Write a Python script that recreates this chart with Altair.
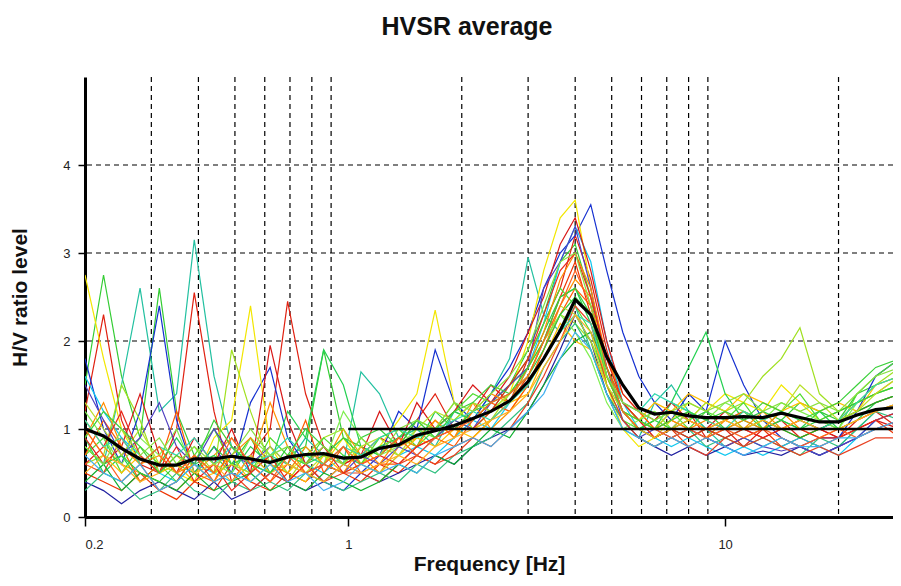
import altair as alt
import pandas as pd

freqs = [0.20, 0.224, 0.25, 0.28, 0.315, 0.35, 0.39, 0.44, 0.49, 0.55, 0.62, 0.69, 0.77, 0.86, 0.97,
         1.08, 1.21, 1.36, 1.52, 1.70, 1.91, 2.14, 2.39, 2.68, 3.0, 3.3, 3.65, 4.0, 4.4, 4.85,
         5.35, 5.9, 6.5, 7.2, 8.0, 8.9, 10.0, 11.2, 12.6, 14.1, 15.8, 17.8, 20.0, 22.4, 25.1, 29.1]

average = [1.0, 0.92, 0.78, 0.66, 0.59, 0.59, 0.66, 0.66, 0.69, 0.66, 0.62, 0.68, 0.71, 0.72, 0.67,
           0.68, 0.78, 0.82, 0.93, 0.98, 1.04, 1.12, 1.2, 1.32, 1.54, 1.8, 2.12, 2.47, 2.3, 1.82,
           1.5, 1.24, 1.17, 1.19, 1.15, 1.13, 1.13, 1.14, 1.13, 1.18, 1.13, 1.08, 1.08, 1.16, 1.22, 1.25]

win_a = [1.5, 2.75, 1.6, 0.9, 2.6, 1.2, 0.7, 0.5, 0.6, 0.9, 0.5, 0.7, 0.8, 1.9, 0.9, 0.8, 0.7, 0.9, 1.0, 0.9, 1.1, 1.3, 1.2, 1.5, 1.9, 2.3, 2.9, 3.1, 2.5, 1.6, 1.2, 1.0, 1.1, 1.3, 1.2, 1.0, 1.1, 1.2, 1.0, 1.1, 1.3, 1.2, 1.1, 1.4, 1.5, 1.6]
win_b = [1.2, 2.3, 1.1, 0.6, 0.5, 1.0, 2.55, 1.2, 0.4, 0.7, 1.0, 2.45, 1.4, 0.8, 0.6, 0.7, 0.9, 0.8, 1.1, 1.4, 1.0, 1.2, 1.5, 1.3, 1.8, 2.2, 2.6, 3.2, 2.7, 1.9, 1.3, 1.1, 0.9, 1.0, 1.2, 0.9, 1.0, 0.8, 1.0, 1.1, 0.9, 1.0, 0.9, 1.1, 1.2, 1.0]
win_c = [0.8, 0.6, 1.5, 2.6, 1.2, 1.4, 3.15, 1.6, 0.8, 0.5, 0.7, 0.6, 0.9, 0.7, 0.6, 1.65, 1.4, 0.9, 1.0, 0.8, 1.2, 1.1, 1.4, 1.8, 2.95, 2.3, 2.1, 2.4, 1.9, 1.4, 1.0, 0.9, 1.3, 1.5, 1.2, 1.0, 0.8, 0.9, 0.8, 0.9, 0.8, 0.7, 0.8, 1.0, 1.2, 1.3]
win_d = [1.8, 1.0, 0.6, 1.2, 2.4, 1.1, 0.5, 0.8, 0.5, 1.3, 1.7, 0.9, 0.6, 0.4, 0.3, 0.5, 0.7, 1.2, 1.0, 1.9, 1.3, 1.1, 1.4, 1.7, 2.1, 2.6, 3.0, 3.2, 3.55, 2.8, 2.1, 1.6, 1.3, 1.1, 1.4, 1.2, 2.0, 1.5, 1.1, 0.9, 0.8, 0.9, 0.9, 1.2, 1.6, 1.8]
win_e = [2.75, 1.8, 1.0, 0.6, 0.8, 0.5, 0.4, 0.9, 1.1, 2.4, 0.8, 0.5, 0.7, 0.6, 0.9, 0.6, 0.8, 1.1, 1.4, 2.35, 1.3, 1.0, 1.2, 1.4, 2.0, 2.8, 3.4, 3.6, 2.6, 1.5, 1.0, 0.8, 0.9, 1.1, 1.3, 1.2, 1.4, 1.3, 1.2, 1.5, 1.3, 1.1, 1.2, 1.3, 1.4, 1.5]
win_f = [1.1, 0.8, 0.6, 0.5, 0.4, 0.3, 0.5, 0.7, 0.9, 0.6, 1.3, 0.8, 0.5, 0.6, 1.0, 0.7, 0.5, 0.8, 0.9, 1.1, 0.9, 1.3, 1.0, 1.2, 1.5, 1.9, 2.4, 2.7, 2.5, 1.8, 1.4, 1.2, 1.0, 1.1, 1.0, 0.9, 1.1, 1.0, 1.2, 1.0, 0.9, 1.0, 1.1, 1.3, 1.4, 1.6]
win_g = [0.6, 0.7, 1.5, 1.1, 0.5, 0.6, 0.8, 0.5, 1.9, 1.2, 0.6, 0.4, 0.7, 0.9, 1.0, 0.6, 0.8, 0.7, 0.9, 1.0, 1.3, 1.0, 1.1, 1.4, 1.6, 2.0, 2.3, 2.2, 2.0, 1.6, 1.3, 1.1, 1.2, 1.0, 1.1, 1.3, 1.2, 1.3, 1.6, 1.8, 2.15, 1.4, 1.2, 1.3, 1.5, 1.7]
win_h = [0.9, 0.5, 0.7, 0.4, 0.6, 0.9, 0.6, 0.7, 0.5, 0.8, 0.6, 1.2, 0.9, 1.9, 1.5, 0.8, 0.7, 0.9, 0.8, 1.2, 1.0, 1.2, 1.3, 1.5, 1.7, 2.1, 2.5, 2.6, 2.2, 1.7, 1.3, 1.1, 1.0, 1.3, 1.7, 2.1, 1.4, 1.1, 1.0, 1.1, 1.0, 1.2, 1.0, 1.1, 1.3, 1.4]
win_i = [0.5, 0.4, 0.3, 0.5, 0.3, 0.2, 0.4, 0.3, 0.6, 0.4, 0.3, 0.5, 0.4, 0.6, 0.5, 0.4, 0.6, 0.5, 0.7, 0.6, 0.8, 0.9, 1.1, 1.3, 1.6, 2.0, 2.5, 2.9, 2.3, 1.6, 1.2, 1.0, 0.9, 1.0, 0.8, 0.9, 0.8, 0.9, 1.0, 0.8, 0.9, 0.8, 0.9, 1.0, 1.1, 0.9]
win_j = [1.6, 1.2, 0.9, 0.7, 0.5, 0.4, 0.6, 0.5, 0.4, 0.6, 0.5, 0.7, 0.6, 0.5, 0.7, 0.6, 0.5, 0.7, 0.8, 0.7, 0.9, 1.1, 1.0, 1.3, 1.7, 2.2, 2.9, 3.3, 2.9, 2.0, 1.3, 1.0, 0.9, 0.8, 0.9, 0.8, 0.7, 0.8, 0.7, 0.8, 0.9, 0.8, 0.7, 0.9, 1.1, 1.2]
win_k = [0.4, 0.3, 0.15, 0.3, 0.4, 0.3, 0.2, 0.4, 0.2, 0.3, 0.5, 0.4, 0.3, 0.4, 0.6, 0.5, 0.4, 0.5, 0.6, 0.7, 0.6, 0.8, 0.9, 1.0, 1.2, 1.5, 1.9, 2.3, 2.0, 1.4, 1.1, 0.9, 0.8, 0.7, 0.8, 0.7, 0.8, 0.7, 0.75, 0.7, 0.8, 0.7, 0.8, 0.9, 1.0, 1.1]
win_l = [0.7, 0.9, 0.5, 0.8, 0.6, 0.4, 0.7, 1.0, 0.6, 0.5, 0.9, 0.7, 0.6, 0.9, 0.7, 0.6, 0.9, 1.0, 0.8, 1.0, 1.2, 1.4, 1.3, 1.5, 1.8, 2.2, 2.6, 2.4, 2.1, 1.5, 1.1, 1.0, 1.1, 1.2, 1.0, 1.2, 1.1, 1.3, 1.0, 1.2, 1.4, 1.1, 1.0, 1.4, 1.6, 1.8]
win_m = [0.9, 0.6, 0.8, 1.4, 0.7, 0.5, 0.9, 0.6, 1.0, 0.5, 1.95, 1.1, 0.6, 0.8, 0.6, 0.7, 1.2, 0.8, 1.3, 1.0, 1.2, 1.5, 1.3, 1.6, 2.1, 2.5, 3.1, 3.4, 2.8, 2.0, 1.4, 1.2, 1.1, 1.3, 1.1, 1.0, 1.2, 1.0, 0.9, 1.0, 1.1, 1.0, 0.9, 1.0, 1.1, 1.0]
win_n = [1.0, 0.7, 0.5, 0.7, 0.5, 0.6, 0.4, 0.5, 0.7, 0.4, 0.6, 0.5, 0.4, 0.7, 0.5, 0.6, 0.5, 0.7, 0.9, 0.8, 1.0, 0.9, 1.1, 1.3, 1.4, 1.8, 2.2, 2.0, 1.9, 1.5, 1.2, 1.1, 1.3, 1.2, 1.4, 1.3, 1.2, 1.4, 1.3, 1.2, 1.3, 1.2, 1.3, 1.2, 1.5, 1.6]
win_o = [0.3, 0.5, 0.4, 0.2, 0.3, 0.5, 0.3, 0.2, 0.4, 0.3, 0.4, 0.3, 0.5, 0.4, 0.3, 0.4, 0.5, 0.4, 0.6, 0.5, 0.7, 0.8, 0.9, 1.1, 1.3, 1.7, 2.0, 2.2, 1.9, 1.4, 1.1, 0.9, 0.8, 0.9, 1.0, 0.8, 0.9, 0.8, 0.9, 0.8, 0.7, 0.9, 0.8, 1.0, 1.2, 1.1]
win_p = [0.7, 1.1, 0.8, 0.4, 0.6, 1.2, 0.5, 0.4, 0.8, 0.6, 0.4, 0.6, 1.1, 0.5, 0.8, 0.5, 0.6, 0.6, 0.8, 0.9, 0.8, 1.1, 1.3, 1.2, 1.5, 1.9, 2.3, 2.6, 2.4, 1.7, 1.3, 1.2, 1.0, 1.2, 1.1, 1.0, 1.1, 1.2, 1.1, 1.0, 1.1, 1.0, 1.1, 1.2, 1.3, 1.4]
win_q = [1.2, 0.9, 0.6, 0.9, 0.7, 1.0, 0.5, 0.6, 0.5, 0.9, 0.7, 0.5, 0.8, 0.6, 1.2, 0.9, 0.7, 0.8, 1.0, 0.9, 1.1, 1.0, 1.2, 1.4, 1.7, 2.0, 2.3, 2.1, 1.8, 1.3, 1.0, 1.1, 1.2, 1.0, 1.2, 1.1, 1.3, 1.2, 1.1, 1.3, 1.2, 1.1, 1.0, 1.3, 1.4, 1.5]
win_r = [1.5, 1.1, 0.7, 0.9, 1.3, 0.8, 0.6, 1.0, 0.7, 0.6, 0.8, 0.6, 0.5, 0.6, 0.5, 0.7, 0.6, 0.8, 0.7, 0.9, 1.1, 1.0, 1.3, 1.5, 1.7, 2.6, 2.9, 3.3, 2.6, 1.7, 1.1, 0.9, 1.0, 0.9, 1.0, 0.9, 0.8, 0.9, 0.8, 0.75, 0.8, 0.7, 0.8, 0.9, 1.1, 1.2]
win_s = [0.6, 0.5, 0.9, 0.6, 0.3, 0.4, 0.7, 0.4, 0.5, 0.3, 0.5, 0.4, 0.6, 0.4, 0.5, 0.5, 0.4, 0.6, 0.7, 0.6, 0.7, 0.9, 0.8, 1.0, 1.3, 1.6, 2.0, 2.4, 2.2, 1.5, 1.1, 0.9, 0.8, 0.9, 0.8, 0.7, 0.9, 0.8, 0.9, 0.8, 0.7, 0.8, 0.7, 0.8, 0.9, 0.9]
win_t = [0.4, 0.6, 0.3, 0.5, 0.4, 0.3, 0.5, 0.3, 0.4, 0.5, 0.3, 0.4, 0.3, 0.5, 0.4, 0.3, 0.4, 0.6, 0.5, 0.7, 0.6, 0.8, 1.0, 0.9, 1.2, 1.5, 1.8, 2.0, 2.1, 1.7, 1.2, 1.0, 0.9, 1.0, 0.9, 1.0, 0.9, 1.0, 1.1, 1.0, 0.9, 1.0, 1.1, 1.2, 1.3, 1.4]
win_u = [0.8, 0.6, 0.7, 0.5, 0.4, 0.6, 0.5, 0.8, 0.6, 0.7, 0.5, 0.8, 0.6, 0.7, 0.9, 0.7, 0.8, 0.9, 1.1, 1.0, 1.2, 1.1, 1.3, 1.4, 1.6, 1.9, 2.3, 2.5, 2.3, 1.7, 1.2, 1.0, 1.1, 1.0, 1.1, 1.2, 1.0, 1.1, 1.2, 1.1, 1.0, 1.1, 1.2, 1.3, 1.4, 1.5]
win_v = [0.9, 1.3, 0.8, 0.6, 0.7, 0.5, 0.6, 0.4, 0.7, 0.9, 0.6, 0.5, 0.8, 0.6, 0.5, 0.8, 0.6, 0.9, 0.8, 1.1, 0.9, 1.2, 1.4, 1.3, 1.7, 2.1, 2.7, 3.0, 2.6, 1.8, 1.3, 1.1, 1.0, 1.1, 1.0, 1.1, 1.0, 1.1, 1.0, 1.2, 1.0, 0.9, 1.0, 1.1, 1.2, 1.3]
win_w = [1.3, 1.0, 0.7, 1.0, 0.6, 0.5, 0.7, 0.5, 0.6, 0.5, 0.8, 0.6, 0.5, 0.7, 0.6, 0.8, 0.9, 0.7, 1.0, 1.2, 1.1, 1.3, 1.2, 1.4, 1.6, 2.0, 2.4, 2.3, 2.0, 1.5, 1.2, 1.1, 1.0, 1.2, 1.1, 1.3, 1.2, 1.0, 1.1, 1.2, 1.5, 1.3, 1.1, 1.2, 1.4, 1.6]
win_x = [0.6, 0.8, 1.2, 0.7, 0.5, 0.8, 0.4, 0.6, 0.3, 0.5, 0.7, 0.4, 0.6, 0.8, 0.5, 0.6, 0.7, 0.6, 0.8, 0.9, 1.0, 1.0, 1.2, 1.5, 1.8, 2.3, 2.8, 3.0, 2.5, 1.8, 1.3, 1.1, 0.9, 1.0, 0.9, 1.0, 0.9, 1.0, 0.9, 1.0, 1.0, 0.9, 0.9, 1.0, 1.1, 1.2]
win_y = [1.1, 0.8, 0.9, 0.6, 0.8, 0.7, 0.9, 0.6, 0.8, 0.6, 0.7, 0.9, 0.7, 0.6, 0.8, 0.7, 0.9, 1.0, 0.9, 1.0, 1.1, 1.2, 1.1, 1.3, 1.5, 1.8, 2.1, 2.3, 2.2, 1.6, 1.3, 1.2, 1.4, 1.3, 1.2, 1.1, 1.0, 1.2, 1.1, 1.2, 1.1, 1.0, 1.1, 1.3, 1.5, 1.6]
win_z = [0.5, 0.7, 0.6, 0.4, 0.5, 0.7, 0.5, 0.6, 0.4, 0.7, 0.5, 0.6, 0.5, 0.4, 0.6, 0.5, 0.6, 0.7, 0.6, 0.8, 0.9, 1.0, 1.1, 1.2, 1.4, 1.7, 2.0, 2.3, 2.1, 1.6, 1.2, 1.0, 0.9, 1.0, 1.1, 1.0, 1.1, 1.0, 1.1, 1.0, 1.1, 1.0, 1.0, 1.1, 1.2, 1.3]
win_aa = [0.9, 1.2, 1.0, 0.8, 0.5, 0.7, 0.6, 1.1, 0.8, 0.6, 0.5, 0.7, 1.0, 0.8, 0.6, 0.9, 1.0, 0.8, 1.1, 0.9, 1.2, 1.3, 1.5, 1.4, 1.7, 2.0, 2.5, 2.6, 2.3, 1.6, 1.2, 1.1, 1.0, 1.1, 1.2, 1.1, 1.2, 1.1, 1.3, 1.2, 1.1, 1.2, 1.3, 1.5, 1.7, 1.8]
win_ab = [1.0, 0.7, 0.4, 0.6, 0.8, 0.5, 0.7, 0.5, 0.9, 0.6, 0.4, 0.7, 0.5, 0.6, 0.8, 0.6, 0.7, 0.9, 0.7, 0.9, 1.0, 1.1, 1.3, 1.4, 1.6, 2.0, 2.4, 2.8, 2.4, 1.7, 1.2, 1.0, 1.0, 0.9, 1.0, 0.9, 1.0, 0.9, 1.0, 0.9, 0.8, 0.9, 1.0, 0.9, 1.0, 1.1]
win_ac = [0.7, 0.5, 0.4, 0.6, 0.3, 0.4, 0.6, 0.4, 0.5, 0.4, 0.6, 0.4, 0.5, 0.3, 0.4, 0.6, 0.5, 0.6, 0.5, 0.7, 0.8, 0.9, 0.8, 1.0, 1.2, 1.4, 1.8, 2.1, 1.9, 1.4, 1.0, 0.9, 0.8, 0.9, 0.8, 0.9, 0.8, 0.7, 0.8, 0.9, 0.8, 0.8, 0.9, 0.9, 1.0, 1.1]
win_ad = [0.8, 0.6, 1.0, 0.7, 0.9, 0.6, 0.8, 0.6, 0.7, 1.0, 0.7, 0.8, 0.6, 0.8, 0.6, 0.9, 0.7, 1.0, 1.1, 1.0, 1.3, 1.2, 1.4, 1.6, 1.9, 2.4, 2.9, 3.0, 2.4, 1.6, 1.3, 1.2, 1.1, 1.2, 1.3, 1.2, 1.3, 1.4, 1.2, 1.3, 1.2, 1.3, 1.2, 1.4, 1.6, 1.7]

windows = {"a": win_a, "b": win_b, "c": win_c, "d": win_d, "e": win_e, "f": win_f, "g": win_g,
           "h": win_h, "i": win_i, "j": win_j, "k": win_k, "l": win_l, "m": win_m, "n": win_n,
           "o": win_o, "p": win_p, "q": win_q, "r": win_r, "s": win_s, "t": win_t,
           "u": win_u, "v": win_v, "w": win_w, "x": win_x, "y": win_y, "z": win_z,
           "aa": win_aa, "ab": win_ab, "ac": win_ac, "ad": win_ad}
window_colors = ["#33cc33", "#e02010", "#22c0a0", "#1530d0", "#f2e600", "#ff9000", "#a0e020",
                 "#22d050", "#ee3300", "#10c8f0", "#2020a0", "#50dd30", "#d81818", "#ffc000",
                 "#30c080", "#ff5a00", "#80ee50", "#5040c0", "#e84020", "#10b030",
                 "#2ecc40", "#ff8c00", "#b8e02a", "#e8281c", "#30d8b0", "#ffb020",
                 "#3ad03a", "#ff6020", "#40b0f0", "#88e040"]

grid_x = [0.3, 0.4, 0.5, 0.6, 0.7, 0.8, 0.9, 2, 3, 4, 5, 6, 7, 8, 9, 20]
grid_y = [1, 2, 3, 4]

F_MIN, F_MAX = 0.2, 27.9

rows = []
for wid, vals in windows.items():
    for f, v in zip(freqs, vals):
        rows.append({"f": f, "v": v, "w": wid})
win_df = pd.DataFrame(rows)
avg_df = pd.DataFrame({"f": freqs, "v": average})

xscale = alt.Scale(type="log", domain=[F_MIN, F_MAX], nice=False)
yscale = alt.Scale(domain=[0, 5], nice=False)

x_axis = alt.Axis(values=[0.2, 1, 10], format=".1~f", title="Frequency [Hz]", grid=False,
                  domainColor="black", domainWidth=3, tickColor="black", tickWidth=1.5, tickSize=9,
                  labelFont="Liberation Sans", labelFontSize=13, labelColor="#222",
                  labelPadding=12, titleFont="Liberation Sans", titleFontSize=21,
                  titleFontWeight="bold", titleColor="#111", titlePadding=2)
y_axis = alt.Axis(values=[0, 1, 2, 3, 4], format="d", title="H/V ratio level", grid=False,
                  domainColor="black", domainWidth=3, tickColor="black", tickWidth=1.5, tickSize=7,
                  labelFont="Liberation Sans", labelFontSize=13, labelColor="#222",
                  labelPadding=8, titleFont="Liberation Sans", titleFontSize=21,
                  titleFontWeight="bold", titleColor="#111", titlePadding=32)

vgrid = alt.Chart(pd.DataFrame({"f": grid_x})).mark_rule(
    color="black", strokeWidth=1.2, strokeDash=[5, 4]
).encode(x=alt.X("f:Q", scale=xscale, axis=x_axis))

hgrid = alt.Chart(pd.DataFrame({"v": grid_y})).mark_rule(
    color="black", strokeWidth=1.2, strokeDash=[5, 4]
).encode(y=alt.Y("v:Q", scale=yscale, axis=y_axis))

one_line = alt.Chart(pd.DataFrame({"f": [1.0], "f2": [F_MAX], "v": [1.0]})).mark_rule(
    color="black", strokeWidth=2.5
).encode(x=alt.X("f:Q", scale=xscale), x2="f2:Q", y=alt.Y("v:Q", scale=yscale))

lines = alt.Chart(win_df).mark_line(strokeWidth=1.2, clip=True).encode(
    x=alt.X("f:Q", scale=xscale),
    y=alt.Y("v:Q", scale=yscale),
    color=alt.Color("w:N", scale=alt.Scale(domain=list(windows.keys()), range=window_colors),
                    legend=None),
    detail="w:N",
)

avg_line = alt.Chart(avg_df).mark_line(color="black", strokeWidth=3.2, clip=True).encode(
    x=alt.X("f:Q", scale=xscale),
    y=alt.Y("v:Q", scale=yscale),
)

chart = alt.layer(vgrid, hgrid, lines, one_line, avg_line).properties(
    width=808,
    height=440,
    title=alt.TitleParams("HVSR average", font="Liberation Sans", fontSize=25, fontWeight="bold",
                          color="#111", anchor="middle", dx=-22, offset=36),
    autosize=alt.AutoSizeParams(type="none"),
    padding={"left": 77, "top": 69, "right": 0, "bottom": 61},
).configure_view(stroke=None)

chart.save("out.html", embed_options={"renderer": "svg", "actions": False})
